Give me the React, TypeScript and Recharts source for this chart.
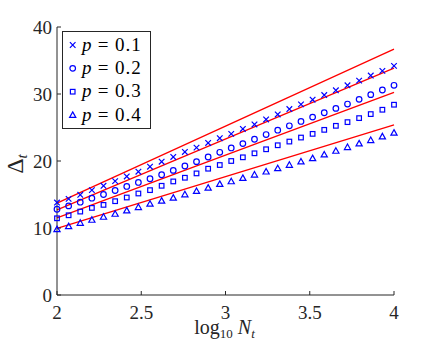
import React from 'react';
import { ComposedChart, Scatter, Line, XAxis, YAxis, Legend } from 'recharts';

// log10(N_t) sample positions (30 points from 2 to 4)
const logN = [
  2.0, 2.069, 2.138, 2.207, 2.276, 2.345, 2.414, 2.483, 2.552, 2.621,
  2.69, 2.759, 2.828, 2.897, 2.966, 3.034, 3.103, 3.172, 3.241, 3.31,
  3.379, 3.448, 3.517, 3.586, 3.655, 3.724, 3.793, 3.862, 3.931, 4.0,
];

const deltaP01 = [
  13.8, 14.35, 14.95, 15.65, 16.3, 17.0, 17.7, 18.4, 19.15, 19.9,
  20.6, 21.35, 22.0, 22.7, 23.4, 24.05, 24.78, 25.45, 26.2, 26.95,
  27.75, 28.45, 29.15, 29.85, 30.55, 31.3, 32.0, 32.75, 33.45, 34.2,
];
const deltaP02 = [
  12.8, 13.3, 13.85, 14.45, 15.0, 15.6, 16.2, 16.8, 17.35, 17.95,
  18.6, 19.25, 19.9, 20.6, 21.3, 21.95, 22.6, 23.25, 23.95, 24.6,
  25.25, 25.9, 26.55, 27.2, 27.85, 28.5, 29.2, 29.9, 30.6, 31.3,
];
const deltaP03 = [
  11.45, 11.9, 12.45, 13.0, 13.45, 14.0, 14.55, 15.15, 15.65, 16.3,
  16.95, 17.5, 18.15, 18.85, 19.4, 20.0, 20.55, 21.15, 21.75, 22.35,
  22.9, 23.5, 24.05, 24.65, 25.25, 25.8, 26.4, 27.0, 27.65, 28.4,
];
const deltaP04 = [
  9.8, 10.25, 10.75, 11.2, 11.65, 12.1, 12.6, 13.1, 13.6, 14.05,
  14.5, 15.0, 15.5, 16.0, 16.55, 16.95, 17.45, 17.95, 18.4, 18.9,
  19.4, 19.9, 20.4, 20.95, 21.5, 22.05, 22.6, 23.1, 23.65, 24.2,
];

// straight red reference lines (values at log10 N = 2 and 4)
const fitX = [2, 4];
const fitP01 = [13.7, 36.7];
const fitP02 = [12.7, 33.85];
const fitP03 = [11.5, 30.25];
const fitP04 = [9.95, 25.4];

const pLabels = ['0.1', '0.2', '0.3', '0.4'];
const xTicks = [2, 2.5, 3, 3.5, 4];
const yTicks = [0, 10, 20, 30, 40];

const BLUE = '#0000ff';
const RED = '#ff0000';
const AXIS = '#262626';
const FONT = 'Liberation Serif, DejaVu Serif, serif';

const toPts = (ys: number[]) => logN.map((x, i) => ({ x, y: ys[i] }));
const toFit = (ys: number[]) => fitX.map((x, i) => ({ x, y: ys[i] }));

function marker(kind: number, cx: number, cy: number) {
  const sw = 1.2;
  if (kind === 0) {
    const r = 2.8;
    return (
      <path
        d={`M${cx - r},${cy - r}L${cx + r},${cy + r}M${cx - r},${cy + r}L${cx + r},${cy - r}`}
        stroke={BLUE}
        strokeWidth={sw}
        fill="none"
      />
    );
  }
  if (kind === 1) {
    return <circle cx={cx} cy={cy} r={2.8} stroke={BLUE} strokeWidth={sw} fill="none" />;
  }
  if (kind === 2) {
    return <rect x={cx - 2.3} y={cy - 2.3} width={4.6} height={4.6} stroke={BLUE} strokeWidth={sw} fill="none" />;
  }
  return (
    <path
      d={`M${cx},${cy - 3.2}L${cx + 3.1},${cy + 2.3}L${cx - 3.1},${cy + 2.3}Z`}
      stroke={BLUE}
      strokeWidth={sw}
      fill="none"
    />
  );
}

const makeShape = (kind: number) => (props: any) => {
  const { cx, cy } = props;
  if (cx == null || cy == null) return <g />;
  return marker(kind, cx, cy);
};

function LegendBox() {
  return (
    <svg width={90} height={99} style={{ display: 'block', fontFamily: FONT }}>
      <rect x={0.5} y={0.5} width={88} height={97} fill="#ffffff" stroke={AXIS} strokeWidth={1} />
      {pLabels.map((lab, i) => {
        const cy = 14 + i * 23.35;
        return (
          <g key={lab}>
            {marker(i, 10.7, cy)}
            <text x={20} y={cy + 5.5} style={{ fontFamily: FONT }} fontSize={19} fontStyle="italic" fill="#000">
              p
            </text>
            <text x={41} y={cy + 5.5} style={{ fontFamily: FONT }} fontSize={19} textAnchor="middle" fill="#000">
              =
            </text>
            <text x={53} y={cy + 5.5} style={{ fontFamily: FONT }} fontSize={19} fill="#000" letterSpacing={1}>
              {lab}
            </text>
          </g>
        );
      })}
    </svg>
  );
}

const XLabel = (props: any) => {
  const vb = props.viewBox || {};
  const cx = (vb.x || 0) + (vb.width || 0) / 2;
  return (
    <text x={cx - 1} y={334} textAnchor="middle" style={{ fontFamily: FONT }} fontSize={20} fill={AXIS}>
      log
      <tspan fontSize={13} dy={4}>10</tspan>
      <tspan dy={-4} dx={5} fontStyle="italic">N</tspan>
      <tspan fontSize={13} dy={4} fontStyle="italic">t</tspan>
    </text>
  );
};

const YLabel = () => {
  return (
    <text
      x={23}
      y={164}
      transform="rotate(-90, 23, 164)"
      textAnchor="middle"
      style={{ fontFamily: FONT }}
      fontSize={24}
      fill={AXIS}
    >
      Δ
      <tspan fontSize={15} dy={4} fontStyle="italic">t</tspan>
    </text>
  );
};

const tickStyle = { fontFamily: FONT, fontSize: 19, fill: AXIS, style: { fontFamily: FONT } };

export default function App() {
  return (
    <div style={{ position: 'absolute', left: 0, top: 0, fontFamily: FONT }}>
      <ComposedChart
        width={436}
        height={354}
        margin={{ top: 27, right: 42, bottom: 0, left: 0 }}
        style={{ fontFamily: FONT }}
      >
        <XAxis
          xAxisId={0}
          type="number"
          dataKey="x"
          domain={[2, 4]}
          ticks={xTicks}
          interval={0}
          height={59}
          tickSize={-4}
          tickMargin={15}
          stroke={AXIS}
          tick={tickStyle}
          tickFormatter={(v: number) => String(v)}
          label={<XLabel />}
        />
        <XAxis
          xAxisId="top"
          orientation="top"
          type="number"
          domain={[2, 4]}
          ticks={xTicks}
          interval={0}
          height={0}
          tickSize={-4}
          stroke={AXIS}
          tick={false}
        />
        <YAxis
          yAxisId={0}
          type="number"
          dataKey="y"
          domain={[0, 40]}
          ticks={yTicks}
          interval={0}
          width={57}
          tickSize={-4}
          tickMargin={9}
          stroke={AXIS}
          tick={tickStyle}
          label={<YLabel />}
        />
        <YAxis
          yAxisId="right"
          orientation="right"
          type="number"
          domain={[0, 40]}
          ticks={yTicks}
          interval={0}
          width={0}
          tickSize={-4}
          stroke={AXIS}
          tick={false}
        />
        <Line data={toFit(fitP01)} dataKey="y" stroke={RED} strokeWidth={1.3} dot={false} isAnimationActive={false} legendType="none" />
        <Line data={toFit(fitP02)} dataKey="y" stroke={RED} strokeWidth={1.3} dot={false} isAnimationActive={false} legendType="none" />
        <Line data={toFit(fitP03)} dataKey="y" stroke={RED} strokeWidth={1.3} dot={false} isAnimationActive={false} legendType="none" />
        <Line data={toFit(fitP04)} dataKey="y" stroke={RED} strokeWidth={1.3} dot={false} isAnimationActive={false} legendType="none" />
        <Scatter name="p = 0.1" data={toPts(deltaP01)} dataKey="y" shape={makeShape(0)} isAnimationActive={false} />
        <Scatter name="p = 0.2" data={toPts(deltaP02)} dataKey="y" shape={makeShape(1)} isAnimationActive={false} />
        <Scatter name="p = 0.3" data={toPts(deltaP03)} dataKey="y" shape={makeShape(2)} isAnimationActive={false} />
        <Scatter name="p = 0.4" data={toPts(deltaP04)} dataKey="y" shape={makeShape(3)} isAnimationActive={false} />
        <Legend
          layout="vertical"
          align="center"
          verticalAlign="middle"
          content={() => <LegendBox />}
          wrapperStyle={{ left: 62, top: 31, width: 90, height: 99 }}
        />
      </ComposedChart>
    </div>
  );
}
